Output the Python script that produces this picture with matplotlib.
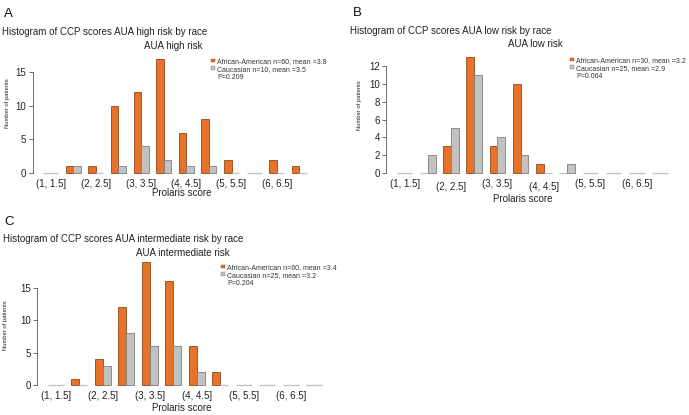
import numpy as np
import matplotlib
matplotlib.use('Agg')
import matplotlib.pyplot as plt
from matplotlib.patches import Patch

plt.rcParams['font.family'] = ['Liberation Sans', 'DejaVu Sans']

W, H = 689, 415

# Data: counts per Prolaris score bin
bins = ['(1, 1.5]', '(1.5, 2]', '(2, 2.5]', '(2.5, 3]', '(3, 3.5]', '(3.5, 4]',
        '(4, 4.5]', '(4.5, 5]', '(5, 5.5]', '(5.5, 6]', '(6, 6.5]', '(6.5, 7]']
high_aa = [0, 1, 1, 10, 12, 17, 6, 8, 2, 0, 2, 1]
high_cau = [0, 1, 0, 1, 4, 2, 1, 1, 0, 0, 0, 0]
low_aa = [0, 0, 3, 13, 3, 10, 1, 0, 0, 0, 0, 0]
low_cau = [0, 2, 5, 11, 4, 2, 0, 1, 0, 0, 0, 0]
int_aa = [0, 1, 4, 12, 19, 16, 6, 2, 0, 0, 0, 0]
int_cau = [0, 0, 3, 8, 6, 6, 2, 0, 0, 0, 0, 0]

ORANGE = '#E8722A'
ORANGE_EDGE = '#8E4A1E'
GRAY = '#C2C2C2'
GRAY_EDGE = '#7E7E7E'
ZERO_EDGE = '#C4C4C4'

fig = plt.figure(figsize=(W / 100, H / 100), dpi=100)


def fx(x):
    return x / W


def fy(y):
    return 1 - y / H


def panel(left, base, ppx, ppy, ymax, yticks, aa, cau, letter, letter_xy,
          title, title_xy, sub, sub_xy, legend_labels, legend_xy, ylab_xy,
          xlab_xy, label_dy=None):
    width = 37.8 * ppx
    height = ymax * ppy
    ax = fig.add_axes([fx(left), fy(base), width / W, height / H])
    n = len(aa)
    pos = np.arange(n) * 3
    for xs, vals, fc, ec in [(pos + 1.5, aa, ORANGE, ORANGE_EDGE),
                             (pos + 2.5, cau, GRAY, GRAY_EDGE)]:
        edges = [ec if v > 0 else ZERO_EDGE for v in vals]
        lws = [0.6 if v > 0 else 1.0 for v in vals]
        ax.bar(xs, vals, width=1.0, color=fc, edgecolor=edges, linewidth=lws,
               clip_on=False)
    ax.set_xlim(-0.4, 37.4)
    ax.set_ylim(0, ymax)
    for s in ['top', 'right', 'bottom']:
        ax.spines[s].set_visible(False)
    ax.spines['left'].set_bounds(yticks[0], yticks[-1])
    ax.spines['left'].set_linewidth(0.6)
    ax.spines['left'].set_color('#555555')
    ax.set_yticks(yticks)
    ax.tick_params(axis='y', length=3, width=0.6, color='#555555', pad=1.5,
                   labelsize=7, labelcolor='#222222')
    ax.set_xticks([])
    if label_dy is None:
        label_dy = [0] * 6
    for k, i in enumerate(range(0, n, 2)):
        ax.annotate(bins[i], xy=(pos[i] + 2, 0), xycoords='data',
                    xytext=(0, -6 - label_dy[k]), textcoords='offset pixels',
                    ha='center', va='top', fontsize=7, color='#222222')
    ax.patch.set_alpha(0)

    fig.text(fx(letter_xy[0]), fy(letter_xy[1]), letter, fontsize=9.5,
             ha='left', va='center', color='#111111')
    fig.text(fx(title_xy[0]), fy(title_xy[1]), title, fontsize=7,
             ha='left', va='center', color='#222222')
    fig.text(fx(sub_xy[0]), fy(sub_xy[1]), sub, fontsize=7,
             ha='center', va='center', color='#222222')
    fig.text(fx(ylab_xy[0]), fy(ylab_xy[1]), 'Number of patients', fontsize=4.2,
             rotation=90, ha='center', va='center', color='#222222')
    fig.text(fx(xlab_xy[0]), fy(xlab_xy[1]), 'Prolaris score', fontsize=7,
             ha='center', va='center', color='#222222')

    handles = [Patch(facecolor=ORANGE, edgecolor=ORANGE_EDGE, linewidth=0.3),
               Patch(facecolor=GRAY, edgecolor=GRAY_EDGE, linewidth=0.3),
               Patch(facecolor='none', edgecolor='none')]
    fig.legend(handles, legend_labels, loc='upper left',
               bbox_to_anchor=(fx(legend_xy[0]), fy(legend_xy[1])),
               frameon=False, fontsize=5, handlelength=0.55, handleheight=0.45,
               handletextpad=0.35, labelspacing=0.12, borderpad=0,
               borderaxespad=0, labelcolor='#333333')
    return ax


panel(32.5, 173, 7.54, 6.73, 18, [0, 5, 10, 15], high_aa, high_cau,
      'A', (4, 14), 'Histogram of CCP scores AUA high risk by race', (2, 32),
      'AUA high risk', (173, 46),
      ['African-American n=60, mean =3.8', 'Caucasian n=10, mean =3.5', 'P=0.209'],
      (211, 58), (8, 103), (182, 193))

panel(386, 173, 7.74, 8.9, 13.5, [0, 2, 4, 6, 8, 10, 12], low_aa, low_cau,
      'B', (353, 13), 'Histogram of CCP scores AUA low risk by race', (350, 31),
      'AUA low risk', (535, 44),
      ['African-American n=30, mean =3.2', 'Caucasian n=25, mean =2.9', 'P=0.064'],
      (570, 57), (360, 105), (523, 199), label_dy=[0, 3, 0, 3, 0, 0])

panel(37, 385, 7.83, 6.47, 20, [0, 5, 10, 15], int_aa, int_cau,
      'C', (4, 222), 'Histogram of CCP scores AUA intermediate risk by race', (3, 239),
      'AUA intermediate risk', (183, 253),
      ['African-American n=60, mean =3.4', 'Caucasian n=25, mean =3.2', 'P=0.204'],
      (221, 264), (6, 325), (182, 408))

fig.savefig('out.png', dpi=100)
